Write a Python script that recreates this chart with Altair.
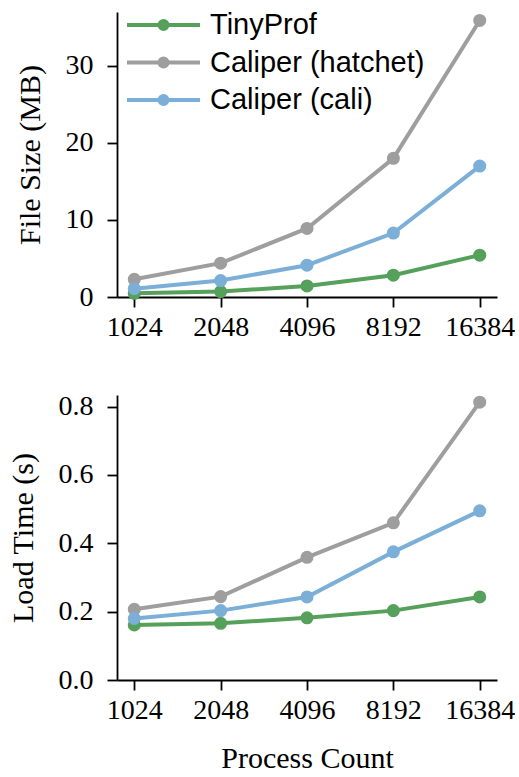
import altair as alt
import pandas as pd

procs = [1024, 2048, 4096, 8192, 16384]
series = ["TinyProf", "Caliper (hatchet)", "Caliper (cali)"]
colors = ["#55a05a", "#9e9e9e", "#7bafd7"]

size_tiny = [0.48, 0.70, 1.43, 2.83, 5.43]
size_hatchet = [2.3, 4.39, 8.9, 18.0, 35.9]
size_cali = [1.08, 2.13, 4.13, 8.3, 17.0]

time_tiny = [0.161, 0.166, 0.182, 0.203, 0.243]
time_hatchet = [0.207, 0.244, 0.359, 0.460, 0.813]
time_cali = [0.180, 0.203, 0.243, 0.375, 0.495]

size_ticks = [0, 10, 20, 30]
time_ticks = [0.0, 0.2, 0.4, 0.6, 0.8]


def make_df(vals):
    rows = []
    for name, v in zip(series, vals):
        for p, y in zip(procs, v):
            rows.append({"procs": p, "value": y, "series": name})
    return pd.DataFrame(rows)


df_size = make_df([size_tiny, size_hatchet, size_cali])
df_time = make_df([time_tiny, time_hatchet, time_cali])

SYMBOL = ("M-1,0H1"
          "M0.11,0A0.11,0.11 0 1,1 -0.11,0A0.11,0.11 0 1,1 0.11,0Z"
          "M0.055,0A0.055,0.055 0 1,1 -0.055,0A0.055,0.055 0 1,1 0.055,0Z"
          "M0.01,0A0.01,0.01 0 1,1 -0.01,0A0.01,0.01 0 1,1 0.01,0Z")


def panel(df, ytitle, ydomain, yticks, yfmt, xtitle, legend_y):
    if xtitle:
        xaxis = alt.Axis(values=procs, format="d", title=xtitle, labelFlush=False)
    else:
        xaxis = alt.Axis(values=procs, format="d", title=None, labelFlush=False)
    x = alt.X("procs:Q",
              scale=alt.Scale(type="log", base=2, domain=[891.4, 18820], nice=False),
              axis=xaxis)
    y = alt.Y("value:Q",
              scale=alt.Scale(domain=ydomain, nice=False, zero=True),
              axis=alt.Axis(values=yticks, format=yfmt, title=ytitle))
    color_scale = alt.Scale(domain=series, range=colors)
    legend = alt.Legend(
        title=None, orient="none", legendX=8, legendY=legend_y,
        symbolType=SYMBOL, symbolSize=5329, symbolStrokeWidth=4,
        clipHeight=28, rowPadding=8.5, labelOffset=8, labelLimit=400,
        labelFont="Liberation Sans", labelFontSize=29, labelColor="black",
        padding=0,
    )
    lines = alt.Chart(df).mark_line(strokeWidth=4).encode(
        x=x, y=y,
        color=alt.Color("series:N", scale=color_scale, legend=legend, sort=series),
        detail="series:N",
    )
    pts = alt.Chart(df).mark_point(filled=True, size=170, opacity=1).encode(
        x=x, y=y,
        color=alt.Color("series:N", scale=color_scale, legend=legend, sort=series),
    )
    return alt.layer(lines, pts).properties(width=380, height=285)


top = panel(df_size, "File Size (MB)", [0, 37.0], size_ticks, "d", None, -1)
bottom = panel(df_time, "Load Time (s)", [0, 0.834], time_ticks, ".1f", "Process Count", -3.5)

chart = alt.vconcat(top, bottom, spacing=51).properties(
    padding={"left": 8, "top": 11, "right": 0, "bottom": 0}
).configure_view(strokeWidth=0).configure_axis(
    grid=False,
    domainColor="black", domainWidth=1.8,
    tickColor="black", tickWidth=1.8, tickSize=10,
    labelFont="Liberation Serif", labelFontSize=28, labelColor="black",
    labelPadding=6,
    titleFont="Liberation Serif", titleFontSize=30, titleFontWeight="normal",
    titleColor="black",
).configure_axisY(labelPadding=14, titlePadding=20).configure_axisX(titlePadding=19)

chart.save("out.html", embed_options={"renderer": "svg", "actions": False})
